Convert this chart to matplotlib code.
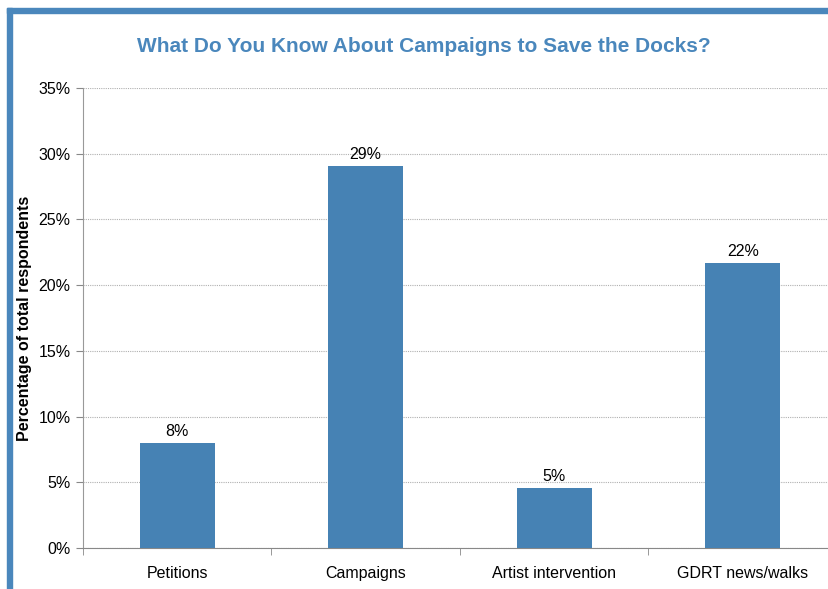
import numpy as np
import matplotlib.pyplot as plt
from matplotlib.patches import Rectangle
import matplotlib.ticker as mticker

plt.rcParams['font.family'] = ['Liberation Sans', 'DejaVu Sans']

categories = ['Petitions', 'Campaigns', 'Artist intervention', 'GDRT news/walks']
values = [8.0, 29.1, 4.6, 21.7]
labels = ['8%', '29%', '5%', '22%']

W, H = 829, 589
fig = plt.figure(figsize=(W / 100, H / 100), dpi=100)

# frame along top and left edge
blue = '#4a87bc'
fig.patches.append(Rectangle((7.5 / W, 0), 4.5 / W, 1 - 7.5 / H, transform=fig.transFigure,
                             color=blue, zorder=0))
fig.patches.append(Rectangle((7.5 / W, 1 - 12.5 / H), 1, 5 / H, transform=fig.transFigure,
                             color=blue, zorder=0))

ax = fig.add_axes([83 / W, 1 - 548 / H, 754 / W, 460 / H])
x = np.arange(len(categories))
ax.bar(x, values, width=0.4, color='#4682b4', zorder=3)
for xi, v, lab in zip(x, values, labels):
    ax.text(xi, v + 0.3, lab, ha='center', va='bottom', fontsize=11.5, color='black')

ax.set_xlim(-0.5, len(categories) - 0.5)
ax.set_ylim(0, 35)
ax.yaxis.set_major_locator(mticker.MultipleLocator(5))
ax.yaxis.set_major_formatter(mticker.FuncFormatter(lambda v, p: f'{v:.0f}%'))
ax.set_xticks(x)
ax.set_xticklabels(categories, fontsize=11.5)
ax.set_xticks(np.arange(len(categories) + 1) - 0.5, minor=True)
ax.tick_params(axis='x', which='major', length=0, pad=13)
ax.tick_params(axis='x', which='minor', length=5, color='#888888')
ax.tick_params(axis='y', labelsize=11.5, length=5, color='#888888', pad=4)
ax.grid(axis='y', linestyle=(0, (1, 1)), color='#b0b0b0', linewidth=0.8, zorder=0)

for s in ['top', 'right']:
    ax.spines[s].set_visible(False)
ax.spines['left'].set_color('#999999')
ax.spines['bottom'].set_color('#888888')

ax.set_ylabel('Percentage of total respondents', fontsize=11.5, fontweight='bold')
ax.yaxis.set_label_coords((32 - 83) / 754, 0.5)
fig.text(424 / W, 1 - 46 / H, 'What Do You Know About Campaigns to Save the Docks?',
         ha='center', va='center', fontsize=15, fontweight='bold', color='#4a87bc')

fig.savefig('out.png', dpi=100)
